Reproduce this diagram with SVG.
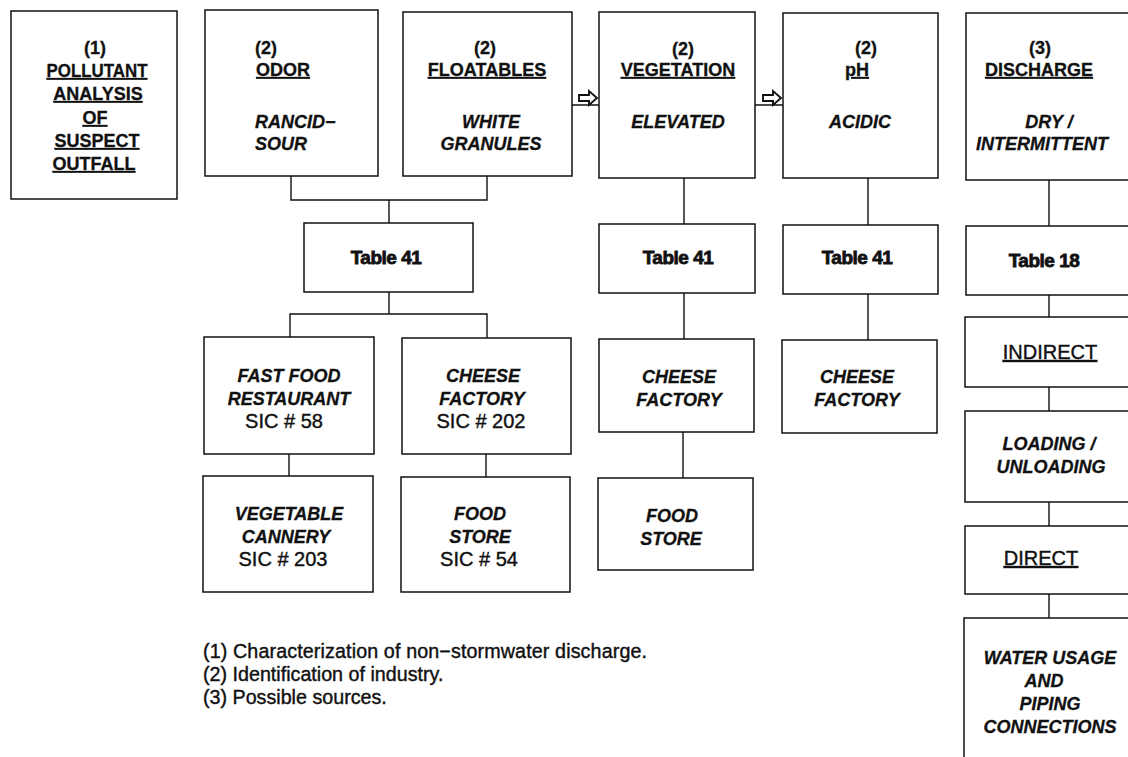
<svg xmlns="http://www.w3.org/2000/svg" width="1128" height="757" viewBox="0 0 1128 757">
<style>
.box{fill:#fff;stroke:#111;stroke-width:1.5}
.ln{fill:none;stroke:#111;stroke-width:1.4}
.arr{fill:#fff;stroke:#111;stroke-width:1.9;stroke-linejoin:miter}
text{font-family:"Liberation Sans",Arial,Helvetica,sans-serif;fill:#111;font-size:18px;font-weight:bold;text-anchor:middle;stroke:#111;stroke-width:0.3}
.it{font-style:italic}
.u{text-decoration:underline}
.tb{font-size:19px;stroke-width:0.8;letter-spacing:-0.5px}
.reg{font-weight:normal;font-size:20px;stroke-width:0.4}
.fn{font-weight:normal;font-size:19.7px;text-anchor:start;stroke-width:0.4}
.st{text-anchor:start}
</style>
<rect width="1128" height="757" fill="#fff"/>
<g id="connectors">
<path class="ln" d="M291,176V200H487V176M389,200V223"/>
<path class="ln" d="M389,292V314M290,337V314H487V338"/>
<path class="ln" d="M289,454V476M486,454V477"/>
<path class="ln" d="M572,105H599M755,105H783"/>
<path class="arr" d="M579,95H589V91L597,98L589,105V101H579Z"/>
<path class="arr" d="M763,95H773V91L781,98L773,105V101H763Z"/>
<path class="ln" d="M684,178V224M684,293V339M683,432V478"/>
<path class="ln" d="M868,178V225M868,294V340"/>
<path class="ln" d="M1049,180V226M1049,295V317M1049,387V411M1049,502V526M1049,594V618"/>
</g>
<g id="n1">
<rect class="box" x="11" y="11" width="166" height="188"/>
<text x="95" y="54">(1)</text>
<text class="u" x="97" y="77" textLength="101" lengthAdjust="spacingAndGlyphs">POLLUTANT</text>
<text class="u" x="98" y="100">ANALYSIS</text>
<text class="u" x="95" y="124">OF</text>
<text class="u" x="97" y="147">SUSPECT</text>
<text class="u" x="94" y="170">OUTFALL</text>
</g>
<g id="n_odor">
<rect class="box" x="205" y="10" width="173" height="166"/>
<text class="st" x="255" y="54">(2)</text>
<text class="st u" x="256" y="76">ODOR</text>
<text class="st it" x="255" y="128">RANCID−</text>
<text class="st it" x="255" y="150">SOUR</text>
</g>
<g id="n_float">
<rect class="box" x="403" y="12" width="169" height="164"/>
<text x="485" y="54">(2)</text>
<text class="u" x="487" y="76">FLOATABLES</text>
<text class="it" x="491" y="128">WHITE</text>
<text class="it" x="491" y="150">GRANULES</text>
</g>
<g id="n_veg">
<rect class="box" x="599" y="12" width="156" height="166"/>
<text x="683" y="55">(2)</text>
<text class="u" x="678" y="76">VEGETATION</text>
<text class="it" x="678" y="128">ELEVATED</text>
</g>
<g id="n_ph">
<rect class="box" x="783" y="13" width="155" height="165"/>
<text x="866" y="54">(2)</text>
<text class="u" x="857" y="76">pH</text>
<text class="it" x="860" y="128">ACIDIC</text>
</g>
<g id="n_dis">
<rect class="box" x="966" y="13" width="175" height="167"/>
<text x="1040" y="54">(3)</text>
<text class="u" x="1039" y="76">DISCHARGE</text>
<text class="it" x="1049" y="128">DRY /</text>
<text class="it" x="1042" y="150">INTERMITTENT</text>
</g>
<g id="n_t41a">
<rect class="box" x="304" y="223" width="169" height="69"/>
<text class="tb" x="386" y="264">Table 41</text>
</g>
<g id="n_t41b">
<rect class="box" x="599" y="224" width="156" height="69"/>
<text class="tb" x="678" y="264">Table 41</text>
</g>
<g id="n_t41c">
<rect class="box" x="783" y="225" width="155" height="69"/>
<text class="tb" x="857" y="264">Table 41</text>
</g>
<g id="n_t18">
<rect class="box" x="966" y="226" width="175" height="69"/>
<text class="tb" x="1044" y="267">Table 18</text>
</g>
<g id="n_fast">
<rect class="box" x="204" y="337" width="170" height="117"/>
<text class="it" x="289" y="382">FAST FOOD</text>
<text class="it" x="289" y="405">RESTAURANT</text>
<text class="reg" x="284" y="428">SIC # 58</text>
</g>
<g id="n_cheese1">
<rect class="box" x="402" y="338" width="169" height="116"/>
<text class="it" x="483" y="382">CHEESE</text>
<text class="it" x="482" y="405">FACTORY</text>
<text class="reg" x="481" y="428">SIC # 202</text>
</g>
<g id="n_veg_cannery">
<rect class="box" x="203" y="476" width="170" height="116"/>
<text class="it" x="289" y="520">VEGETABLE</text>
<text class="it" x="286" y="543">CANNERY</text>
<text class="reg" x="283" y="566">SIC # 203</text>
</g>
<g id="n_food1">
<rect class="box" x="401" y="477" width="169" height="115"/>
<text class="it" x="480" y="520">FOOD</text>
<text class="it" x="480" y="543">STORE</text>
<text class="reg" x="479" y="566">SIC # 54</text>
</g>
<g id="n_cheese2">
<rect class="box" x="599" y="339" width="155" height="93"/>
<text class="it" x="679" y="383">CHEESE</text>
<text class="it" x="679" y="406">FACTORY</text>
</g>
<g id="n_food2">
<rect class="box" x="598" y="478" width="155" height="92"/>
<text class="it" x="672" y="522">FOOD</text>
<text class="it" x="671" y="545">STORE</text>
</g>
<g id="n_cheese3">
<rect class="box" x="782" y="340" width="155" height="93"/>
<text class="it" x="857" y="383">CHEESE</text>
<text class="it" x="857" y="406">FACTORY</text>
</g>
<g id="n_indirect">
<rect class="box" x="965" y="317" width="176" height="70"/>
<text class="u reg" x="1050" y="359">INDIRECT</text>
</g>
<g id="n_loading">
<rect class="box" x="965" y="411" width="176" height="91"/>
<text class="it" x="1049" y="450">LOADING /</text>
<text class="it" x="1051" y="473">UNLOADING</text>
</g>
<g id="n_direct">
<rect class="box" x="965" y="526" width="176" height="68"/>
<text class="u reg" x="1041" y="565">DIRECT</text>
</g>
<g id="n_water">
<rect class="box" x="964" y="618" width="177" height="160"/>
<text class="it" x="1050" y="664">WATER USAGE</text>
<text class="it" x="1044" y="687">AND</text>
<text class="it" x="1050" y="710">PIPING</text>
<text class="it" x="1050" y="733">CONNECTIONS</text>
</g>
<g id="footnotes">
<text class="fn" x="203" y="658" textLength="444" lengthAdjust="spacing">(1) Characterization of non−stormwater discharge.</text>
<text class="fn" x="203" y="681">(2) Identification of industry.</text>
<text class="fn" x="203" y="704">(3) Possible sources.</text>
</g>
</svg>
